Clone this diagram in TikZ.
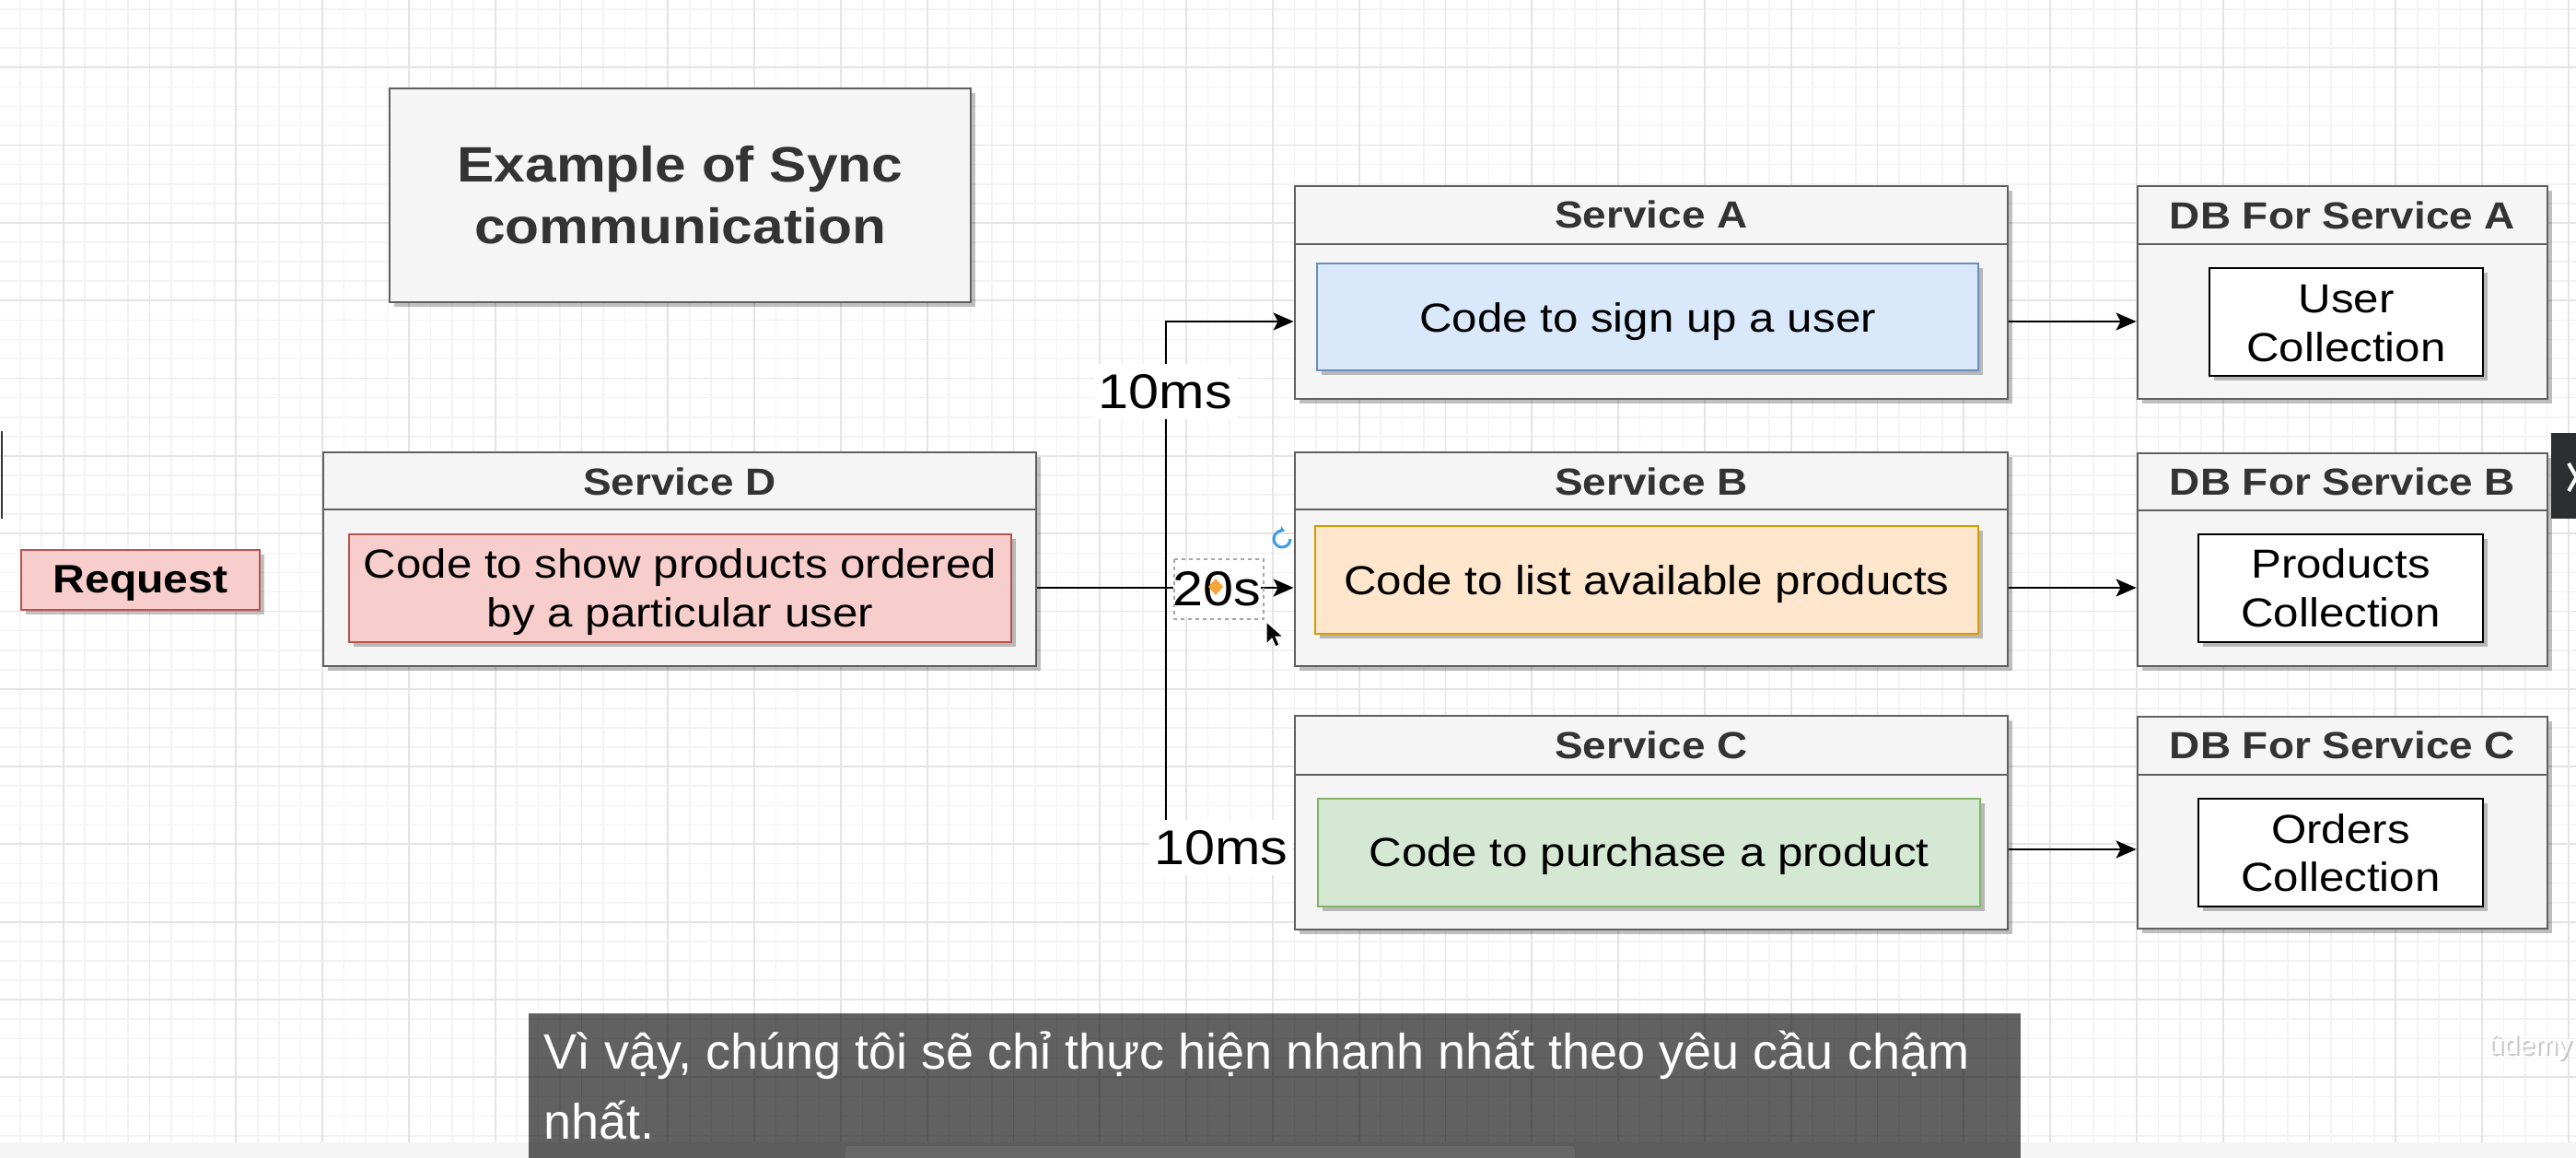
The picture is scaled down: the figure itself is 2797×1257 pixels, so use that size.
\documentclass[tikz,border=0pt]{standalone}
\usepackage{fontspec}
\setmainfont{Liberation Sans}[FakeStretch=1.12]
\newfontfamily\subfont{Liberation Sans}
\usetikzlibrary{shadows,arrows.meta}
\definecolor{boxfill}{HTML}{F5F5F5}
\definecolor{boxline}{HTML}{606060}
\definecolor{hdr}{HTML}{333333}
\definecolor{bluef}{HTML}{DAE8FC}\definecolor{bluel}{HTML}{6C8EBF}
\definecolor{orf}{HTML}{FFE6CC}\definecolor{orl}{HTML}{D79B00}
\definecolor{grf}{HTML}{D5E8D4}\definecolor{grl}{HTML}{82B366}
\definecolor{rdf}{HTML}{F8CECC}\definecolor{rdl}{HTML}{B85450}
\definecolor{gridmin}{HTML}{F3F3F3}\definecolor{gridmaj}{HTML}{E4E4E4}
\definecolor{tabdark}{HTML}{2D2E30}
\definecolor{handle}{HTML}{F5A53A}
\definecolor{rotblue}{HTML}{3D9BE9}
\tikzset{
 shad/.style={drop shadow={shadow xshift=5pt,shadow yshift=-5pt,fill=black,opacity=.25}},
 outerbox/.style={draw=boxline, fill=boxfill, line width=2.8pt, shad, inner sep=0pt},
 innerbox/.style={line width=2.4pt, shad, inner sep=0pt},
 hdrtxt/.style={anchor=base, text=hdr, font=\fontsize{41}{49}\selectfont\bfseries, inner sep=0pt},
 bodytxt/.style={anchor=base, font=\fontsize{44}{52}\selectfont, inner sep=0pt},
 conn/.style={line width=2.4pt, -{Stealth[length=22pt,width=19pt,inset=5pt]}},
 lbl/.style={anchor=base, fill=white, font=\fontsize{53}{60}\selectfont, inner xsep=5pt, inner ysep=8pt, text height=40pt, text depth=4pt},
 subtxt/.style={anchor=base west, text=white, font=\subfont\fontsize{54}{60}\selectfont, inner sep=0pt},
}
\begin{document}
\begin{tikzpicture}[x=1pt,y=-1pt]
\useasboundingbox (0,0) rectangle (2797,1257);
\fill[white] (0,0) rectangle (2797,1257);
% grid
\foreach \i in {-2,...,116} \draw[gridmin, line width=1.6pt] ({68.7+23.45*\i},0) -- ({68.7+23.45*\i},1257);
\foreach \i in {-3,...,56} \draw[gridmin, line width=1.6pt] (0,{73.3+21.08*\i}) -- (2797,{73.3+21.08*\i});
\foreach \i in {0,...,29} \draw[gridmaj, line width=1.8pt] ({68.7+93.8*\i},0) -- ({68.7+93.8*\i},1257);
\foreach \i in {0,...,14} \draw[gridmaj, line width=1.8pt] (0,{73.3+84.3*\i}) -- (2797,{73.3+84.3*\i});
% bottom band
\fill[gray!8] (0,1240) rectangle (2797,1257);

% title
\node[outerbox, minimum width=631, minimum height=232] (title) at (738.5,212) {};
\node[anchor=base, text=hdr, font=\fontsize{54}{60}\selectfont\bfseries, inner sep=0pt] (tl1) at (738.5,198) {Example of Sync};
\node[anchor=base, text=hdr, font=\fontsize{54}{60}\selectfont\bfseries, inner sep=0pt] (tl2) at (738.5,265) {communication};

% request
\node[innerbox, draw=rdl, fill=rdf, minimum width=259, minimum height=65] (req) at (152.5,629.5) {};
\node[anchor=base, font=\fontsize{43}{50}\selectfont\bfseries, inner sep=0pt] (reqt) at (152.5,643) {Request};

% Service D
\node[outerbox, minimum width=774, minimum height=232] (sd) at (738,607) {};
\draw[draw=boxline, line width=2.8pt] (351,553) -- (1125,553);
\node[hdrtxt] (sdh) at (738,537) {Service D};
\node[innerbox, draw=rdl, fill=rdf, minimum width=719, minimum height=117] (sdin) at (738.5,638.5) {};
\node[bodytxt] (sdt1) at (738.5,627) {Code to show products ordered};
\node[bodytxt] (sdt2) at (738.5,680) {by a particular user};

% Service A
\node[outerbox, minimum width=774, minimum height=231] (sa) at (1793,317.5) {};
\draw[draw=boxline, line width=2.8pt] (1406,265) -- (2180,265);
\node[hdrtxt] (sah) at (1793,248) {Service A};
\node[innerbox, draw=bluel, fill=bluef, minimum width=718, minimum height=116] (sain) at (1789,344) {};
\node[bodytxt] (sat) at (1789,360) {Code to sign up a user};

% Service B
\node[outerbox, minimum width=774, minimum height=232] (sb) at (1793,607) {};
\draw[draw=boxline, line width=2.8pt] (1406,553) -- (2180,553);
\node[hdrtxt] (sbh) at (1793,537) {Service B};
\node[innerbox, draw=orl, fill=orf, minimum width=720, minimum height=117] (sbin) at (1788,629.5) {};
\node[bodytxt] (sbt) at (1788,645) {Code to list available products};

% Service C
\node[outerbox, minimum width=774, minimum height=232] (sc) at (1793,893) {};
\draw[draw=boxline, line width=2.8pt] (1406,841) -- (2180,841);
\node[hdrtxt] (sch) at (1793,823) {Service C};
\node[innerbox, draw=grl, fill=grf, minimum width=719, minimum height=117] (scin) at (1790.5,925.5) {};
\node[bodytxt] (sct) at (1790.5,940) {Code to purchase a product};

% DB A
\node[outerbox, minimum width=445, minimum height=231] (dba) at (2543.5,317.5) {};
\draw[draw=boxline, line width=2.8pt] (2321,265) -- (2766,265);
\node[hdrtxt] (dbah) at (2543.5,249) {DB For Service A};
\node[innerbox, draw=black, fill=white, minimum width=297, minimum height=117] (dbain) at (2547.5,349.5) {};
\node[bodytxt] (dbat1) at (2547.5,339) {User};
\node[bodytxt] (dbat2) at (2547.5,392) {Collection};

% DB B
\node[outerbox, minimum width=445, minimum height=231] (dbb) at (2543.5,607.5) {};
\draw[draw=boxline, line width=2.8pt] (2321,554) -- (2766,554);
\node[hdrtxt] (dbbh) at (2543.5,537) {DB For Service B};
\node[innerbox, draw=black, fill=white, minimum width=309, minimum height=117] (dbbin) at (2541.5,638.5) {};
\node[bodytxt] (dbbt1) at (2541.5,627) {Products};
\node[bodytxt] (dbbt2) at (2541.5,680) {Collection};

% DB C
\node[outerbox, minimum width=445, minimum height=230] (dbc) at (2543.5,893) {};
\draw[draw=boxline, line width=2.8pt] (2321,841) -- (2766,841);
\node[hdrtxt] (dbch) at (2543.5,823) {DB For Service C};
\node[innerbox, draw=black, fill=white, minimum width=309, minimum height=117] (dbcin) at (2541.5,925.5) {};
\node[bodytxt] (dbct1) at (2541.5,915) {Orders};
\node[bodytxt] (dbct2) at (2541.5,967) {Collection};

% connectors
\coordinate (rowA) at (0,349);
\coordinate (rowB) at (0,638);
\coordinate (rowC) at (0,922);
\coordinate (jn) at (1266,638);
\draw[conn] (sd.east |- rowB) -- (sb.west |- rowB);
\draw[conn] (jn) |- (sa.west |- rowA);
\draw[conn] (jn) |- (sc.west |- rowC);
\draw[conn] (sa.east |- rowA) -- (dba.west |- rowA);
\draw[conn] (sb.east |- rowB) -- (dbb.west |- rowB);
\draw[conn] (sc.east |- rowC) -- (dbc.west |- rowC);

% labels
\node[lbl] (la) at (1265.5,443) {10ms};
\node[lbl, inner xsep=0pt] (lb) at (1321.5,657) {20s};
\node[lbl] (lc) at (1326,938) {10ms};

% selection artefacts around the 20s label
\draw[gray!70, line width=1.5pt, dash pattern=on 4pt off 4pt] (1275,607) rectangle (1372,672);
\fill[handle] (1320,628) -- (1328,637) -- (1320,646) -- (1312,637) -- cycle;
\draw[rotblue, line width=3pt, -{Stealth[length=6pt,width=8pt]}] (1401,585) arc[start angle=0, end angle=290, radius=9];
\filldraw[fill=black, draw=white, line width=1pt] (1375,675) -- (1375,699) -- (1381,693) -- (1385,702) -- (1389,700) -- (1385,691) -- (1393,691) -- cycle;

% right tab and left edge mark
\fill[tabdark] (2770,470) rectangle (2800,563);
\draw[white, line width=4pt] (2789,503) -- (2806,533);
\draw[white, line width=4pt] (2789,533) -- (2806,503);
\draw[black!80, line width=2pt] (1.5,468) -- (1.5,563);

% watermark
\node[anchor=base west, text=gray!45, font=\subfont\fontsize{30}{34}\selectfont, inner sep=0pt] (wm0) at (2704,1146) {ûdemy};
\node[anchor=base west, text=white, font=\subfont\fontsize{30}{34}\selectfont, inner sep=0pt] (wm) at (2702,1144) {ûdemy};

% subtitle
\fill[black, opacity=.62] (574,1100) rectangle (2194,1257);
\fill[white, opacity=.07, rounded corners=4pt] (918,1244) rectangle (1710,1262);
\node[subtxt] (sub1) at (590,1160) {Vì vậy, chúng tôi sẽ chỉ thực hiện nhanh nhất theo yêu cầu chậm};
\node[subtxt] (sub2) at (590,1236) {nhất.};
\end{tikzpicture}
\end{document}
